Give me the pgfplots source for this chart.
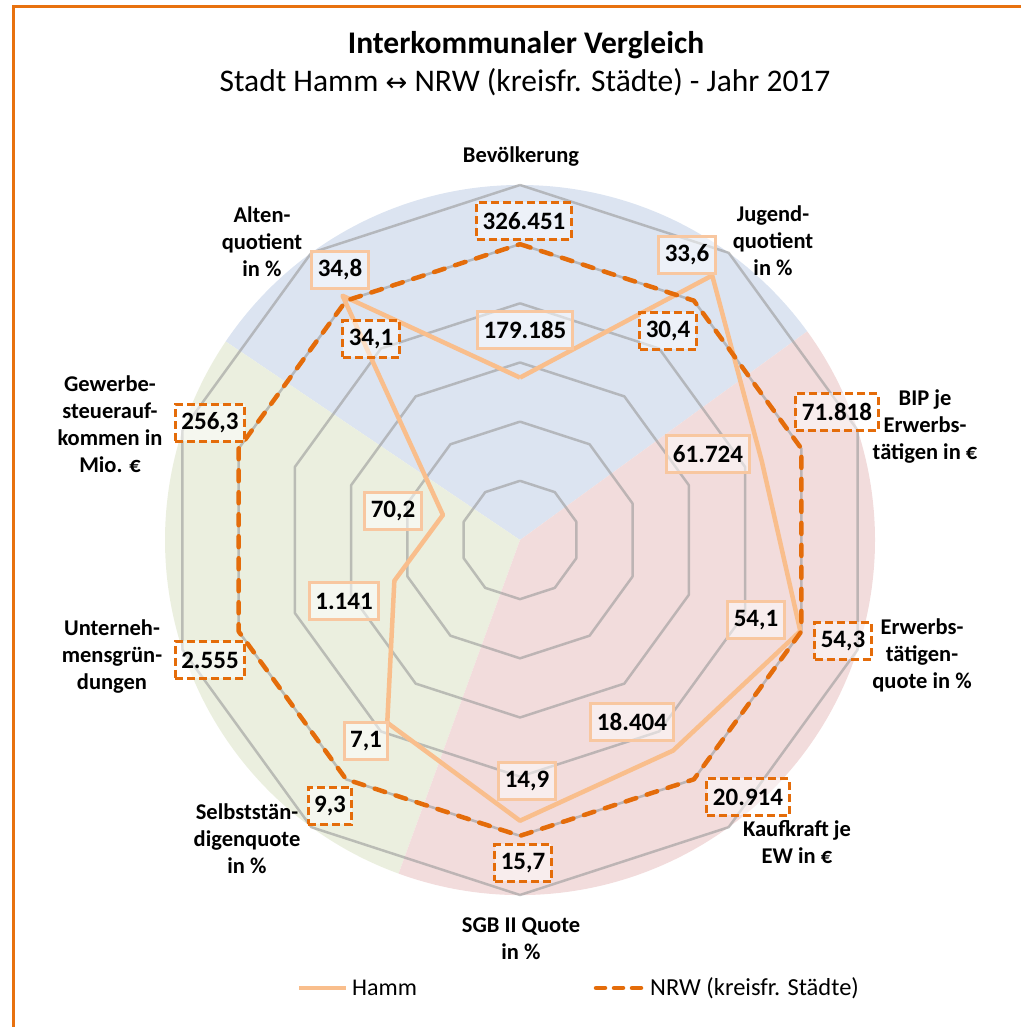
\documentclass[border=0pt]{standalone}
\usepackage{fontspec}
\setmainfont{Carlito}
\newfontfamily\dejavu{DejaVu Sans}
\usepackage{pgfplots}
\pgfplotsset{compat=1.18}
\definecolor{hammc}{HTML}{F9BE8C}
\definecolor{hammbox}{HTML}{F8C7A0}
\definecolor{nrwc}{HTML}{E46C0A}
\definecolor{framec}{HTML}{E8710F}
\definecolor{secblue}{HTML}{DCE4F1}
\definecolor{secred}{HTML}{F2DCDC}
\definecolor{secgreen}{HTML}{EBEFDF}
\definecolor{ringc}{HTML}{9A9A9A}
\begin{document}
\begin{tikzpicture}[x=1pt,y=1pt]
\useasboundingbox (0,0) rectangle (1021,1027);
% frame
\draw[framec, line width=3pt] (13.5,0) -- (13.5,1020.5) -- (1021,1020.5);
% background sectors
\fill[secblue] (520,487) -- ++(36:355) arc[start angle=36,end angle=146,radius=355] -- cycle;
\fill[secgreen] (520,487) -- ++(146:355) arc[start angle=146,end angle=250,radius=355] -- cycle;
\fill[secred] (520,487) -- ++(250:355) arc[start angle=250,end angle=396,radius=355] -- cycle;
% titles
\node[font=\fontsize{31.5}{36}\selectfont\bfseries] at (526,982) {Interkommunaler Vergleich};
\node[font=\fontsize{31.5}{36}\selectfont] at (525,945) {Stadt Hamm {\dejavu\fontsize{26}{28}\selectfont ↔} NRW (kreisfr. Städte) - Jahr 2017};
\begin{axis}[at={(520pt,487pt)}, anchor=origin, x=2.9583pt, y=2.9583pt,
  xmin=-125, xmax=125, ymin=-125, ymax=125, hide axis, clip=false]
\pgfplotsinvokeforeach{20,40,60,80,100,120}{
  \addplot[ringc, opacity=0.6, line width=2.5pt, line join=round, data cs=polar, forget plot]
    coordinates {(90,#1) (54,#1) (18,#1) (-18,#1) (-54,#1) (-90,#1) (-126,#1) (-162,#1) (-198,#1) (-234,#1) (90,#1)};
}
% Hamm, relative to NRW = 100
% (179.185 / 33,6 / 61.724 / 54,1 / 18.404 / 14,9 / 7,1 / 1.141 / 70,2 / 34,8)
\addplot[hammc, line width=4.5pt, line join=round, data cs=polar]
  coordinates {(90,54.89) (54,110.53) (18,85.95) (-18,99.63) (-54,88.00) (-90,94.90) (-126,76.34) (-162,44.66) (-198,27.39) (-234,102.05) (90,54.89)};
% NRW (kreisfr. Staedte) = 100
% (326.451 / 30,4 / 71.818 / 54,3 / 20.914 / 15,7 / 9,3 / 2.555 / 256,3 / 34,1)
\addplot[nrwc, line width=4.5pt, line join=round, line cap=round, dash pattern=on 11pt off 11pt, data cs=polar]
  coordinates {(90,100) (54,100) (18,100) (-18,100) (-54,100) (-90,100) (-126,100) (-162,100) (-198,100) (-234,100) (90,100)};
\end{axis}
\tikzset{
 cat/.style={font=\fontsize{22.5}{27}\selectfont\bfseries, align=center, inner sep=0pt},
 hb/.style={draw=hammbox, line width=3pt, fill=white, fill opacity=0.5, text opacity=1, font=\fontsize{25}{30}\selectfont\bfseries, minimum height=37pt, inner xsep=6pt, inner ysep=0pt},
 nb/.style={draw=nrwc, line width=3pt, dash pattern=on 8pt off 4pt, fill=white, fill opacity=0.5, text opacity=1, font=\fontsize{25}{30}\selectfont\bfseries, minimum height=37pt, inner xsep=6pt, inner ysep=0pt}
}
% category labels
\node[cat] at (521,870) {Bevölkerung};
\node[cat] at (773,786) {Jugend-\\quotient\\in \%};
\node[cat] at (925,600) {BIP je\\Erwerbs-\\tätigen in €};
\node[cat] at (922,372) {Erwerbs-\\tätigen-\\quote in \%};
\node[cat] at (797,185) {Kaufkraft je\\EW in €};
\node[cat] at (521,88) {SGB II Quote\\in \%};
\node[cat] at (247,188) {Selbststän-\\digenquote\\in \%};
\node[cat] at (112,370) {Unterneh-\\mensgrün-\\dungen};
\node[cat] at (110,603) {Gewerbe-\\steuerauf-\\kommen in\\Mio. €};
\node[cat] at (262,785) {Alten-\\quotient\\in \%};
% value labels Hamm
\node[hb] at (525,697) {179.185};
\node[hb] at (687,772) {33,6};
\node[hb] at (708,573) {61.724};
\node[hb] at (756,407) {54,1};
\node[hb] at (632,305) {18.404};
\node[hb] at (527,246) {14,9};
\node[hb] at (366,286) {7,1};
\node[hb] at (344,426) {1.141};
\node[hb] at (393,516) {70,2};
\node[hb] at (340,757) {34,8};
% value labels NRW
\node[nb] at (524,806) {326.451};
\node[nb] at (668,696) {30,4};
\node[nb] at (837,615) {71.818};
\node[nb] at (843,386) {54,3};
\node[nb] at (748,230) {20.914};
\node[nb] at (523,164) {15,7};
\node[nb] at (330,221) {9,3};
\node[nb] at (210,367) {2.555};
\node[nb] at (210,604) {256,3};
\node[nb] at (371,688) {34,1};
% legend
\draw[hammc, line width=4.5pt] (299,39) -- (346,39);
\node[anchor=west, inner sep=0pt, font=\fontsize{24}{28}\selectfont] at (352,39) {Hamm};
\draw[nrwc, line width=4.5pt, line cap=round, dash pattern=on 9pt off 9pt] (596,39) -- (645,39);
\node[anchor=west, inner sep=0pt, font=\fontsize{24.5}{28}\selectfont] at (650,39) {NRW (kreisfr. Städte)};
\end{tikzpicture}
\end{document}
